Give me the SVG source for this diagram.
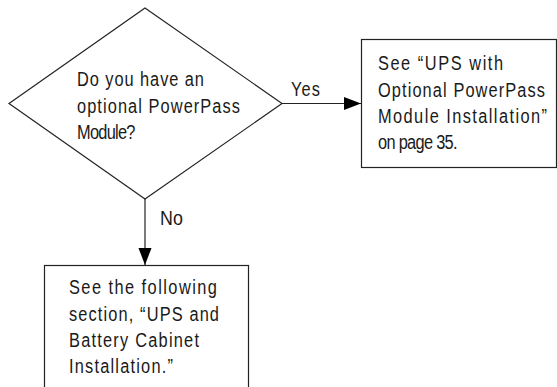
<svg xmlns="http://www.w3.org/2000/svg" width="557" height="387" viewBox="0 0 557 387">
<style>
.shape{fill:#fff;stroke:#222;stroke-width:1.2}
.t{font-family:"Liberation Sans",Arial,sans-serif;font-size:21px;fill:#1a1a1a}
.c{stroke:#222;stroke-width:1.2;fill:none}
</style>
<defs>
<marker id="ah" markerUnits="userSpaceOnUse" markerWidth="18" markerHeight="14" refX="17" refY="6.5" orient="auto">
<path d="M0,0 L17,6.5 L0,13 Z" fill="#000"/>
</marker>
</defs>
<rect width="557" height="387" fill="#fff"/>
<g id="decision">
<polygon class="shape" points="145,8 282,103.5 145,199 9,103.5"/>
<text class="t" transform="translate(77,86) scale(0.78,1)" textLength="162.8" lengthAdjust="spacing">Do you have an</text>
<text class="t" transform="translate(77,113) scale(0.78,1)" textLength="209" lengthAdjust="spacing">optional PowerPass</text>
<text class="t" transform="translate(77,139) scale(0.78,1)" textLength="75" lengthAdjust="spacing">Module?</text>
</g>
<g id="yes-box">
<rect class="shape" x="361.5" y="39.5" width="195" height="128"/>
<text class="t" transform="translate(378,70) scale(0.78,1)" textLength="160.3" lengthAdjust="spacing">See “UPS with</text>
<text class="t" transform="translate(378,97) scale(0.78,1)" textLength="214.1" lengthAdjust="spacing">Optional PowerPass</text>
<text class="t" transform="translate(378,123) scale(0.78,1)" textLength="216.7" lengthAdjust="spacing">Module Installation”</text>
<text class="t" transform="translate(378,149) scale(0.78,1)" textLength="102" lengthAdjust="spacing">on page 35.</text>
</g>
<g id="no-box">
<rect class="shape" x="44.5" y="265.5" width="204" height="140"/>
<text class="t" transform="translate(69,294) scale(0.78,1)" textLength="189.7" lengthAdjust="spacing">See the following</text>
<text class="t" transform="translate(69,321) scale(0.78,1)" textLength="192.3" lengthAdjust="spacing">section, “UPS and</text>
<text class="t" transform="translate(69,347) scale(0.78,1)" textLength="166.7" lengthAdjust="spacing">Battery Cabinet</text>
<text class="t" transform="translate(69,373) scale(0.78,1)" textLength="133.3" lengthAdjust="spacing">Installation.”</text>
</g>
<g id="connectors">
<line class="c" x1="282" y1="103.5" x2="361" y2="103.5" marker-end="url(#ah)"/>
<text class="t" transform="translate(291,96) scale(0.78,1)" textLength="37.2" lengthAdjust="spacing">Yes</text>
<line class="c" x1="145" y1="199" x2="145" y2="265" marker-end="url(#ah)"/>
<text class="t" transform="translate(160,225) scale(0.85,1)">No</text>
</g>
</svg>
